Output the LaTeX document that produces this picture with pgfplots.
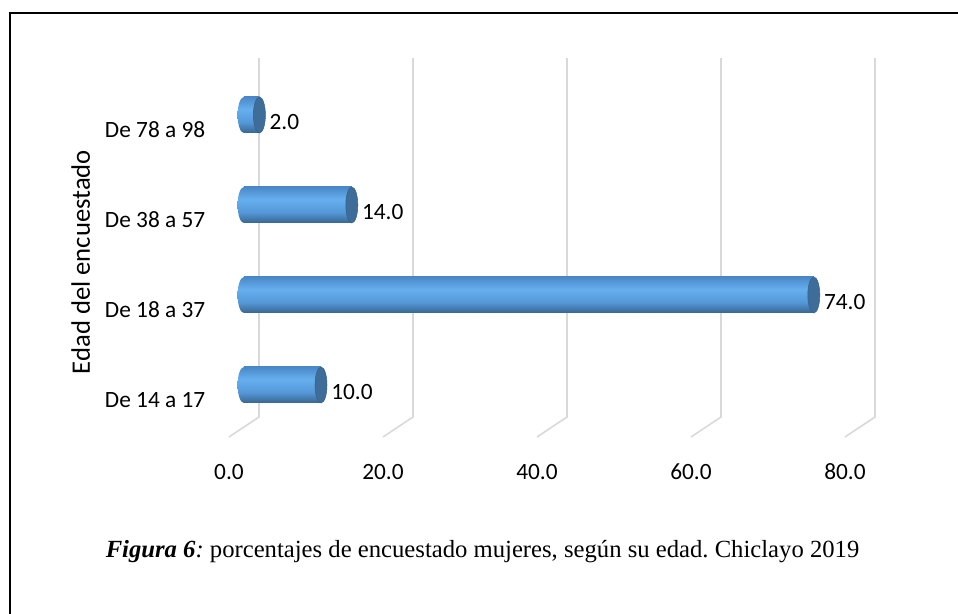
\documentclass[border=0pt]{standalone}
\usepackage{fontspec}
\setmainfont{Carlito}
\newfontfamily\capfont{Liberation Serif}
\usepackage{pgfplots}
\usepackage{pgfplotstable}
\pgfplotsset{compat=1.18}
\frenchspacing

\definecolor{gridc}{HTML}{D9D9D9}
\definecolor{cylTop}{HTML}{4A88C8}
\definecolor{cylLight}{HTML}{66AFEF}
\definecolor{cylMid}{HTML}{5598D8}
\definecolor{cylDark}{HTML}{37658F}
\definecolor{capc}{HTML}{3E6D9A}

% cylinder body: dark lower rim, light band above the middle
\pgfdeclareverticalshading{cyl}{100bp}{color(0bp)=(cylDark); color(25bp)=(cylDark); color(40bp)=(cylMid); color(58bp)=(cylLight); color(75bp)=(cylTop); color(100bp)=(cylTop)}

% rounded left end and flat-coloured right cap of each cylinder
\pgfdeclareplotmark{cylstart}{%
  \pgfpathellipse{\pgfpointorigin}{\pgfqpoint{4.8pt}{0pt}}{\pgfqpoint{0pt}{13.5pt}}%
  \pgfshadepath{cyl}{0}\pgfusepath{discard}}
\pgfdeclareplotmark{cylend}{%
  \pgfpathellipse{\pgfpointorigin}{\pgfqpoint{4.5pt}{0pt}}{\pgfqpoint{0pt}{13.5pt}}%
  \pgfusepathqfillstroke}

\pgfplotstableread{
pos val
0 10.0
1 74.0
2 14.0
3 2.0
}\edades

\begin{document}
\begin{tikzpicture}
\useasboundingbox (0,0) rectangle (718.5pt,460.5pt);
\draw[line width=1.5pt] (7.5pt,0pt) -- (7.5pt,450.75pt) -- (718.5pt,450.75pt);
\begin{axis}[
  at={(154.125pt,121.125pt)}, anchor=south west,
  scale only axis, width=519.75pt, height=307.125pt,
  xmin=-5, xmax=85, ymin=-0.75, ymax=3.8,
  clip=false,
  axis line style={draw=none},
  tick style={draw=none}, major tick length=0pt,
  xtick={0,20,40,60,80},
  xticklabels={0.0,20.0,40.0,60.0,80.0},
  ytick={0,1,2,3},
  yticklabels={De 14 a 17,De 18 a 37,De 38 a 57,De 78 a 98},
  tick label style={font=\fontsize{17.5}{21}\selectfont, inner sep=0pt},
  xticklabel style={anchor=center, xshift=-11.25pt, yshift=-14.6pt},
  yticklabel style={anchor=east, yshift=-11.25pt},
  ylabel={Edad del encuestado},
  ylabel style={at={(rel axis cs:-0.18,0.465)}, anchor=center,
    font=\fontsize{20}{24}\selectfont},
]
% back walls of the grid, folding forward at the floor
\draw[gridc, line width=1.2pt] (axis cs:-1.95,-0.578) -- (axis cs:1.95,-0.356) -- (axis cs:1.95,3.633);
\draw[gridc, line width=1.2pt] (axis cs:18.05,-0.578) -- (axis cs:21.95,-0.356) -- (axis cs:21.95,3.633);
\draw[gridc, line width=1.2pt] (axis cs:38.05,-0.578) -- (axis cs:41.95,-0.356) -- (axis cs:41.95,3.633);
\draw[gridc, line width=1.2pt] (axis cs:58.05,-0.578) -- (axis cs:61.95,-0.356) -- (axis cs:61.95,3.633);
\draw[gridc, line width=1.2pt] (axis cs:78.05,-0.578) -- (axis cs:81.95,-0.356) -- (axis cs:81.95,3.633);

% rounded start of each cylinder
\addplot[only marks, mark=cylstart] table[x expr=0, y=pos] {\edades};
% cylinder bodies, one path per bar so each gets its own shading
\pgfplotsinvokeforeach{0,1,2,3}{
  \addplot[xbar, bar width=27pt, draw=none, shade, shading=cyl,
    restrict y to domain=#1:#1] table[x=val, y=pos] {\edades};
}
% end caps with value labels
\addplot[only marks, mark=cylend, mark options={fill=capc, draw=capc!90!black, line width=0.4pt},
  point meta=x,
  nodes near coords={\pgfmathprintnumber[fixed, fixed zerofill, precision=1, assume math mode=true]{\pgfplotspointmeta}},
  nodes near coords style={anchor=west, inner sep=0pt, xshift=7.5pt, yshift=-5pt,
    font=\fontsize{17.5}{21}\selectfont, text=black}]
  table[x=val, y=pos] {\edades};
\end{axis}
\node[font=\capfont\fontsize{18.5}{22}\selectfont] at (361.9pt,46.5pt)
  {\textbf{\textit{Figura 6}}\textit{:} porcentajes de encuestado mujeres, según su edad. Chiclayo 2019};
\end{tikzpicture}
\end{document}
